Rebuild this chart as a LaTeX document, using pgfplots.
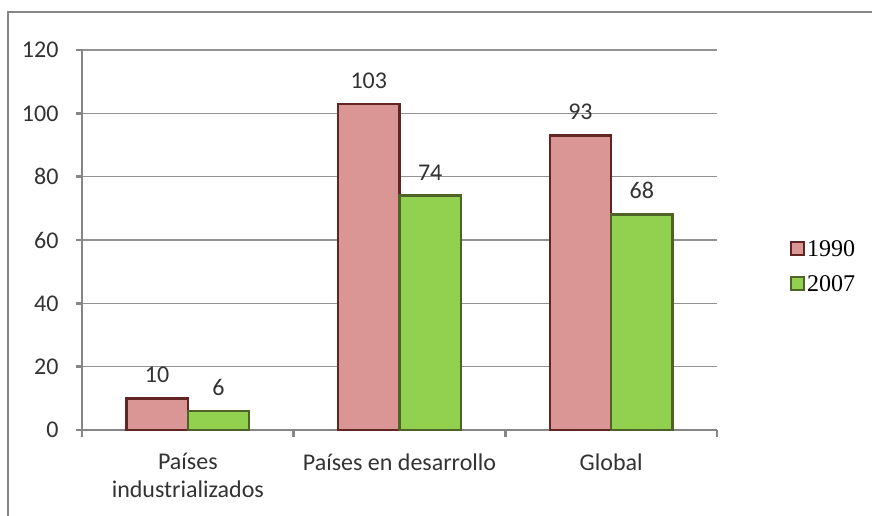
\documentclass[border=0pt]{standalone}
\usepackage{pgfplots}
\pgfplotsset{compat=1.18}
\usepackage{fontspec}
\setmainfont{Carlito}
\newfontfamily\legfont{Liberation Serif}
\definecolor{pinkfill}{RGB}{217,150,148}
\definecolor{pinkedge}{RGB}{99,37,35}
\definecolor{greenfill}{RGB}{146,208,80}
\definecolor{greenedge}{RGB}{79,98,40}
\definecolor{axgray}{RGB}{134,134,134}
\begin{document}
\begin{tikzpicture}[x=1pt,y=1pt]
\path[use as bounding box] (0,0) rectangle (872,-516);
\fill[white] (0,0) rectangle (872,-516);
\draw[axgray, line width=1.5pt] (8,-520) -- (8,-12) -- (876,-12);
\begin{axis}[
  at={(82pt,-430pt)}, anchor=south west,
  scale only axis, width=635pt, height=380pt,
  xmin=-0.5, xmax=2.5, ymin=0, ymax=120,
  ytick={0,20,...,120},
  xtick={0,1,2},
  xticklabels={{Países\\industrializados},{Países en desarrollo},{Global}},
  minor xtick={-0.5,0.5,1.5,2.5},
  axis x line*=bottom, axis y line*=left,
  axis line style={axgray, line width=2.5pt},
  every tick/.style={axgray, line width=2.5pt},
  major tick length=6pt, minor tick length=7pt,
  tick align=outside,
  every major x tick/.append style={draw=none},
  every minor x tick/.append style={draw=axgray, line width=2.5pt},
  ymajorgrids, grid style={axgray!90, line width=1.3pt},
  /pgf/number format/assume math mode=true,
  tick label style={font=\fontsize{24}{28}\selectfont, text=black!80},
  yticklabel style={xshift=-14pt},
  xticklabel style={align=center, yshift=-14pt},
  ybar, bar width=0.29, 
  nodes near coords,
  every node near coord/.append style={font=\fontsize{24}{28}\selectfont, text=black!80, yshift=11pt},
  legend style={at={(1.115,0.43)}, anchor=west, draw=none, fill=none,
    font=\legfont\fontsize{24}{26}\selectfont, row sep=14pt, inner sep=0pt},
  legend cell align=left,
  legend image code/.code={\draw[#1, line width=2pt] (0pt,-6pt) rectangle (13pt,7pt);},
]
\addplot[fill=pinkfill, draw=pinkedge, line width=2.5pt, bar shift=-0.145] coordinates {(0,10) (1,103) (2,93)};
\addplot[fill=greenfill, draw=greenedge, line width=2.5pt, bar shift=0.145] coordinates {(0,6) (1,74) (2,68)};
\legend{1990,2007}
\end{axis}
\end{tikzpicture}
\end{document}
